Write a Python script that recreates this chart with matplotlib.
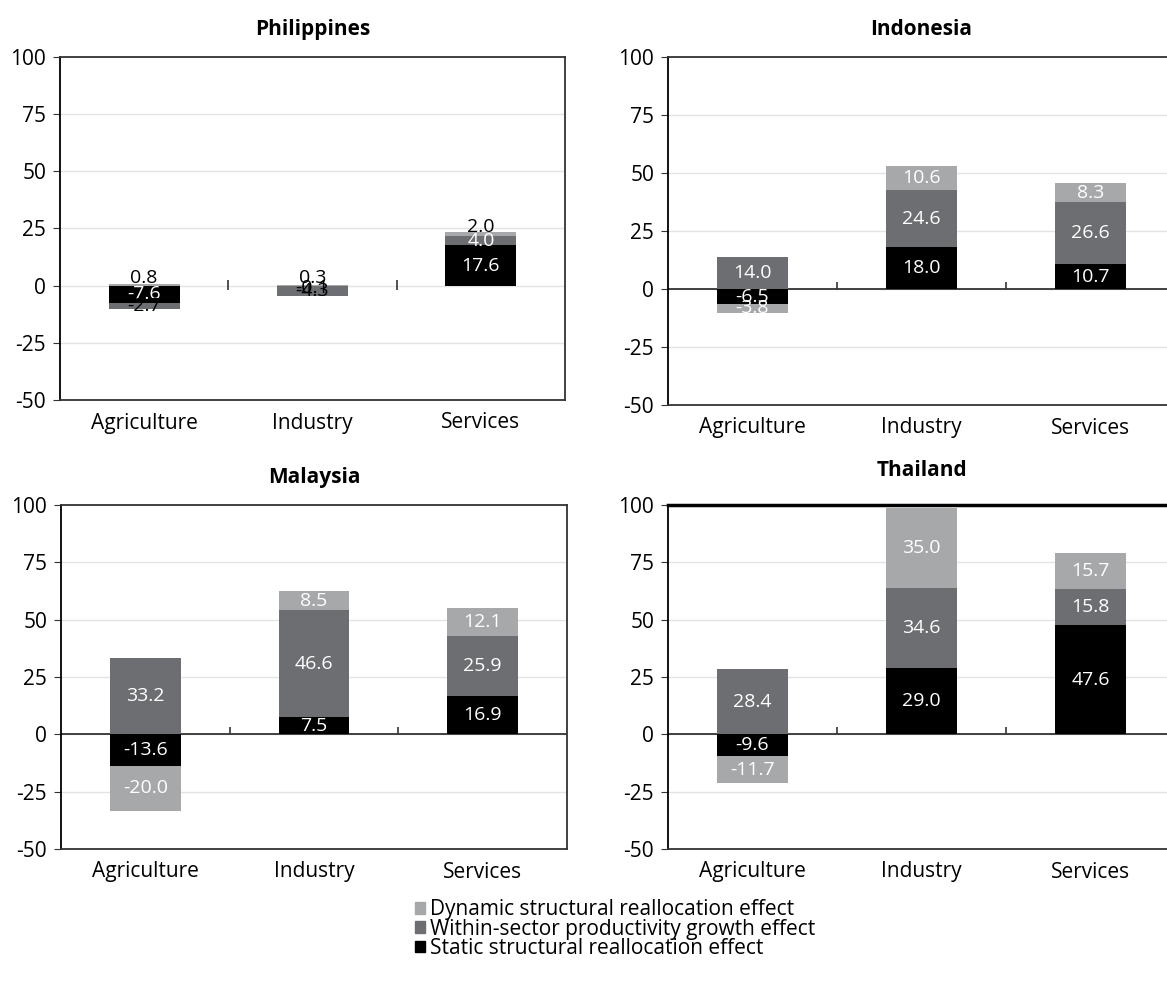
import matplotlib
matplotlib.use("Agg")
import matplotlib.pyplot as plt
from matplotlib.patches import Patch
import numpy as np

plt.rcParams["font.family"] = ["Open Sans", "DejaVu Sans"]
plt.rcParams["axes.unicode_minus"] = False

sectors = ["Agriculture", "Industry", "Services"]
series_names = [
    "Static structural reallocation effect",
    "Within-sector productivity growth effect",
    "Dynamic structural reallocation effect",
]
colors = ["#000000", "#6d6e71", "#a7a8aa"]

philippines_static = [-7.6, -0.1, 17.6]
philippines_within = [-2.7, -4.3, 4.0]
philippines_dynamic = [0.8, 0.3, 2.0]

indonesia_static = [-6.5, 18.0, 10.7]
indonesia_within = [14.0, 24.6, 26.6]
indonesia_dynamic = [-3.8, 10.6, 8.3]

malaysia_static = [-13.6, 7.5, 16.9]
malaysia_within = [33.2, 46.6, 25.9]
malaysia_dynamic = [-20.0, 8.5, 12.1]

thailand_static = [-9.6, 29.0, 47.6]
thailand_within = [28.4, 34.6, 15.8]
thailand_dynamic = [-11.7, 35.0, 15.7]

# label colours per panel (Philippines has a few dark labels)
philippines_label_colors = [
    ["white", "black", "white"],
    ["black", "black", "white"],
    ["black", "black", "black"],
]

W, H = 1167, 981
fig = plt.figure(figsize=(W / 100, H / 100), dpi=100)


def px_axes(left, right, top, bottom):
    return fig.add_axes([left / W, 1 - bottom / H, (right - left) / W, (bottom - top) / H])


def draw_panel(ax, title, static, within, dynamic, label_colors=None, boxed=True,
               zero_dark=True, title_pad=16):
    x = np.arange(len(sectors))
    pos = np.zeros(len(sectors))
    neg = np.zeros(len(sectors))
    for i, vals in enumerate([static, within, dynamic]):
        vals = np.array(vals)
        bottoms = np.where(vals >= 0, pos, neg)
        bars = ax.bar(x, vals, bottom=bottoms, width=0.42, color=colors[i], zorder=3)
        for j, b in enumerate(bars):
            c = "white" if label_colors is None else label_colors[i][j]
            yc = bottoms[j] + vals[j] / 2
            if label_colors is not None and c == "black" and abs(vals[j]) < 2.5:
                yc += 3 if vals[j] > 0 else -1
            ax.text(b.get_x() + b.get_width() / 2, yc,
                    f"{vals[j]:.1f}", ha="center", va="center", color=c,
                    fontsize=14, zorder=4)
        pos = np.where(vals >= 0, pos + vals, pos)
        neg = np.where(vals < 0, neg + vals, neg)

    ax.set_xlim(-0.5, 2.5)
    ax.set_ylim(-50, 100)
    ax.set_yticks([-50, -25, 0, 25, 50, 75, 100])
    ax.yaxis.grid(True, color="#e3e3e3", linewidth=1, zorder=0)
    ax.set_xticks(x)
    ax.set_xticklabels(sectors, fontsize=15)
    ax.tick_params(axis="x", length=0, pad=9)
    ax.tick_params(axis="y", labelsize=15, length=5, color="#333333", pad=5)
    ax.set_title(title, fontsize=15, fontweight="bold", pad=title_pad)

    if zero_dark:
        ax.axhline(0, color="#333333", linewidth=1.3, zorder=2)
        ax.vlines([0.5, 1.5], 0, 3, color="#333333", linewidth=1.2, zorder=2)
    else:
        ax.vlines([0.5, 1.5], -2, 2.5, color="#333333", linewidth=1.2, zorder=2)

    for side in ["left", "top", "right", "bottom"]:
        ax.spines[side].set_color("#333333")
        ax.spines[side].set_linewidth(1.3)
    ax.spines["left"].set_color("black")
    if not boxed:
        ax.spines["right"].set_visible(False)


ax1 = px_axes(60, 565, 57, 400)
draw_panel(ax1, "Philippines", philippines_static, philippines_within,
           philippines_dynamic, label_colors=philippines_label_colors,
           zero_dark=False)

ax2 = px_axes(668, 1175, 57, 405)
draw_panel(ax2, "Indonesia", indonesia_static, indonesia_within, indonesia_dynamic,
           boxed=False)

ax3 = px_axes(61, 567, 505, 849)
draw_panel(ax3, "Malaysia", malaysia_static, malaysia_within, malaysia_dynamic)

ax4 = px_axes(668, 1175, 505, 849)
draw_panel(ax4, "Thailand", thailand_static, thailand_within, thailand_dynamic,
           boxed=False, title_pad=21)
ax4.spines["top"].set_color("black")
ax4.spines["top"].set_linewidth(2.5)

handles = [Patch(color=colors[i], label=series_names[i]) for i in [2, 1, 0]]
fig.legend(handles=handles, loc="center", bbox_to_anchor=(615 / W, 1 - 929 / H),
           frameon=False, fontsize=15, handlelength=0.5, handleheight=0.5,
           handletextpad=0.25, labelspacing=-0.08, borderpad=0)

fig.savefig("out.png", dpi=100)
